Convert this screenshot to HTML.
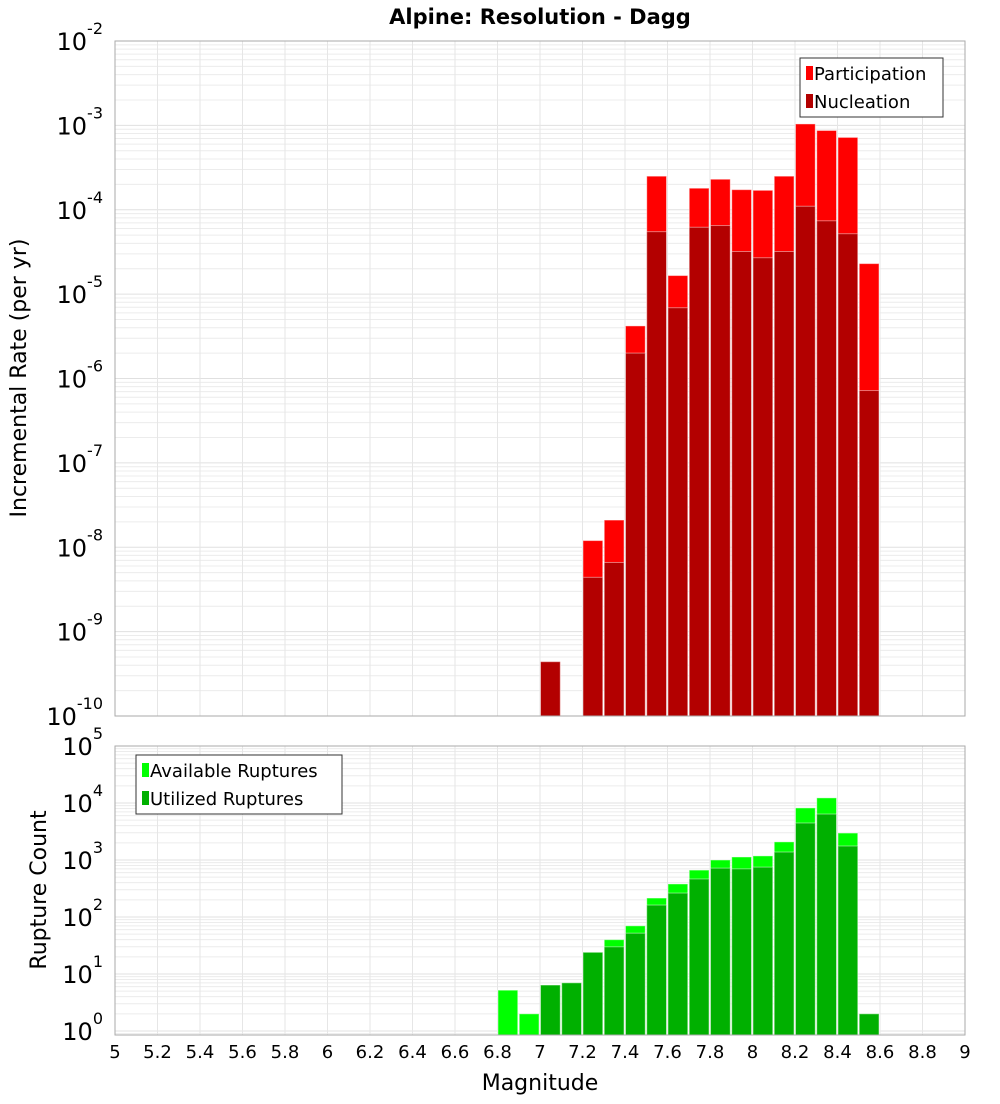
<!DOCTYPE html>
<html><head><meta charset="utf-8"><style>
body{margin:0;background:#fff;font-family:"DejaVu Sans","Liberation Sans",sans-serif;}
svg text{font-family:"DejaVu Sans","Liberation Sans",sans-serif;}
</style></head><body>
<svg id="c" width="1000" height="1100" xmlns="http://www.w3.org/2000/svg">
<rect width="1000" height="1100" fill="#fff"/>
<text x="540" y="24" text-anchor="middle" font-size="21" font-weight="bold">Alpine: Resolution - Dagg</text>
</svg>
<script>
const bins = [6.8,6.9,7.0,7.1,7.2,7.3,7.4,7.5,7.6,7.7,7.8,7.9,8.0,8.1,8.2,8.3,8.4,8.5];
const participation = [0,0,4.4e-10,0,1.2e-8,2.1e-8,4.2e-6,2.5e-4,1.66e-5,1.8e-4,2.3e-4,1.73e-4,1.7e-4,2.5e-4,1.04e-3,8.7e-4,7.2e-4,2.3e-5];
const nucleation = [0,0,4.4e-10,0,4.4e-9,6.6e-9,2e-6,5.5e-5,6.9e-6,6.2e-5,6.5e-5,3.2e-5,2.7e-5,3.2e-5,1.1e-4,7.4e-5,5.2e-5,7.2e-7];
const available = [5.2,2,6.4,7,24,40,70,215,380,665,1000,1130,1180,2080,8200,12300,2970,2];
const utilized = [0,0,6.4,7,24,30,52,162,263,465,720,700,750,1380,4460,6400,1760,2];
const xTicks = ["5","5.2","5.4","5.6","5.8","6","6.2","6.4","6.6","6.8","7","7.2","7.4","7.6","7.8","8","8.2","8.4","8.6","8.8","9"];
const topExp = [-2,-3,-4,-5,-6,-7,-8,-9,-10];
const botExp = [5,4,3,2,1,0];

const NS="http://www.w3.org/2000/svg", svg=document.getElementById('c');
function mk(tag,attrs,parent){const e=document.createElementNS(NS,tag);for(const k in attrs)e.setAttribute(k,attrs[k]);(parent||svg).appendChild(e);return e;}
const L=115,R=965;
const x=m=>L+(m-5)/4*(R-L);
const T1=41,B1=716, yTop=v=>T1+(-2-Math.log10(v))/8*(B1-T1);
const T2=746,B2=1035, D2=57, yBot=v=>T2+(5-Math.log10(v))*D2;

function grid(top,bot,ylog,lo,hi){
  for(let d=lo;d<hi;d++)for(let k=1;k<10;k++){const v=k*Math.pow(10,d);const y=ylog(v);if(y<top||y>bot)continue;
    const g=mk('line',{x1:L,x2:R,y1:y,y2:y,stroke:k==1?'#e0e0e0':'#ececec','stroke-width':1});
    
    }
  xTicks.forEach(t=>{const xx=x(+t);const g=mk('line',{x1:xx,x2:xx,y1:top,y2:bot,stroke:'#e6e6e6'});
    
    });
}
grid(T1,B1,yTop,-10,-1);
grid(T2,B2,yBot,-1,5);

function bars(vals,color,ys,bot,name){
  vals.forEach((v,i)=>{if(!(v>0))return;const x0=x(bins[i]);const y=Math.max(ys(v),0);
    const r=mk('rect',{x:x0+0.5,y:y,width:x(bins[i]+0.1)-x0-1.5,height:bot-y,fill:color,stroke:'rgba(255,255,255,0.45)','stroke-width':1});
    
    });
}
bars(participation,'#ff0000',yTop,B1,'participation');
bars(nucleation,'#b30000',yTop,B1,'nucleation');
bars(available,'#00ff00',yBot,B2,'available');
bars(utilized,'#00b000',yBot,B2,'utilized');

[[T1,B1],[T2,B2]].forEach(([t,b],i)=>{const r=mk('rect',{x:L,y:t,width:R-L,height:b-t,fill:'none',stroke:'#aaa'});
  
  });

function ylab(exp,y,name){const t=mk('text',{x:103,y:y+9,'text-anchor':'end','font-size':24});
  
  
  t.textContent='10';
  const s=mk('tspan',{dy:-16,'font-size':16},t);s.textContent=exp;}
topExp.forEach(e=>ylab(e,yTop(Math.pow(10,e)),'y-tick-top'));
botExp.forEach(e=>ylab(e,yBot(Math.pow(10,e)),'y-tick-bottom'));

xTicks.forEach(t=>{const e=mk('text',{x:x(+t),y:1058,'text-anchor':'middle','font-size':18});
  
  
  e.textContent=t;});

let t=mk('text',{x:540,y:1090,'text-anchor':'middle','font-size':22});


t.textContent='Magnitude';
t=mk('text',{x:0,y:0,'text-anchor':'middle','font-size':22,transform:'translate(26,378) rotate(-90)'});


t.textContent='Incremental Rate (per yr)';
t=mk('text',{x:0,y:0,'text-anchor':'middle','font-size':22,transform:'translate(46,890) rotate(-90)'});


t.textContent='Rupture Count';

function legend(bx,by,w,items,name){const g=mk('g',{});
  
  
  mk('rect',{x:bx,y:by,width:w,height:59,fill:'#fff',stroke:'#333'},g);
  items.forEach(([c,l],i)=>{const yy=by+15+i*28;
    mk('rect',{x:bx+6,y:yy-7,width:7,height:14,fill:c},g);
    const tx=mk('text',{x:bx+14,y:yy+7,'font-size':18},g);
    
    
    tx.textContent=l;});}
legend(800,58,143,[['#ff0000','Participation'],['#b30000','Nucleation']],'legend-top');
legend(136,755,206,[['#00ff00','Available Ruptures'],['#00b000','Utilized Ruptures']],'legend-bottom');
</script>
</body></html>
